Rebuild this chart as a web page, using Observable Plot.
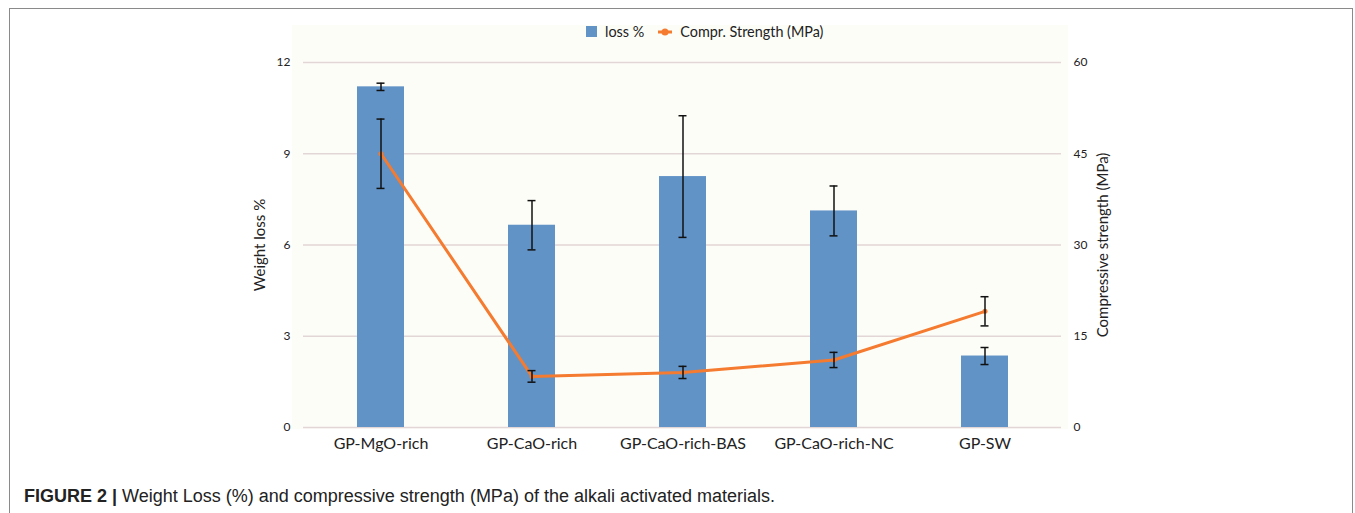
<!DOCTYPE html>
<html>
<head>
<meta charset="utf-8">
<script src="https://cdn.jsdelivr.net/npm/d3@7"></script>
<script src="https://cdn.jsdelivr.net/npm/@observablehq/plot@0.6"></script>
<style>
  html, body { margin: 0; padding: 0; background: #ffffff; width: 1355px; height: 513px; overflow: hidden; }
  #frame { position: absolute; left: 9px; top: 8px; width: 1344px; height: 540px; border: 1px solid #8a8a8a; border-bottom: none; box-sizing: border-box; }
  #panel { position: absolute; left: 292px; top: 25px; width: 776px; height: 404px; background: #fdfdf8; }
  #chart { position: absolute; left: 0; top: 0; }
  #legend { position: absolute; left: 586px; top: 23px; font-family: Lato, "Open Sans", sans-serif; font-size: 14.4px; color: #222; display: flex; align-items: center; white-space: nowrap; }
  #legend .item { display: flex; align-items: center; margin-right: 14px; }
  #legend svg { margin-right: 8px; }
  #caption { position: absolute; left: 24px; top: 486px; font-family: "Liberation Sans", Arial, sans-serif; font-size: 18px; color: #222; white-space: nowrap; }
  #caption b { font-weight: bold; }
</style>
</head>
<body>
<div id="frame"></div>
<div id="panel"></div>
<div id="chart"></div>
<div id="legend"></div>
<div id="caption"><b>FIGURE 2 |</b> Weight Loss (%) and compressive strength (MPa) of the alkali activated materials.</div>
<script>
// ---- data ----
const categories = ["GP-MgO-rich", "GP-CaO-rich", "GP-CaO-rich-BAS", "GP-CaO-rich-NC", "GP-SW"];
const lossPct = [11.2, 6.65, 8.25, 7.12, 2.35];
const lossErr = [0.12, 0.81, 2.0, 0.82, 0.28];
const strengthMPa = [45.0, 8.4, 9.05, 11.1, 19.1];
const strengthErr = [5.7, 0.95, 1.0, 1.25, 2.4];
const leftTicks = [0, 3, 6, 9, 12];
const rightTicks = [0, 15, 30, 45, 60];
const seriesNames = ["loss %", "Compr. Strength (MPa)"];
const axisTitles = ["Weight loss %", "Compressive strength (MPa)"];

const ratio = 60 / 12; // right axis (MPa) per left axis unit

const data = categories.map((c, i) => ({
  cat: c,
  loss: lossPct[i], lossErr: lossErr[i],
  cs: strengthMPa[i], csErr: strengthErr[i]
}));

const barColor = "#6193c7";
const lineColor = "#f47b2f";

const chart = Plot.plot({
  width: 1355,
  height: 470,
  marginTop: 62,
  marginBottom: 43,
  marginLeft: 303,
  marginRight: 294,
  style: { background: "transparent", fontFamily: "Lato, 'Open Sans', sans-serif", color: "#222", overflow: "visible" },
  x: { domain: categories, paddingInner: 0.69, paddingOuter: 0.345, label: null },
  y: { domain: [0, 12], label: null },
  marks: [
    Plot.gridY(leftTicks, { stroke: "#e2d6d6", strokeOpacity: 1, strokeWidth: 1.3 }),
    Plot.barY(data, { x: "cat", y: "loss", fill: barColor }),
    // loss error bars
    Plot.ruleX(data, { x: "cat", y1: d => d.loss - d.lossErr, y2: d => d.loss + d.lossErr, stroke: "#111", strokeWidth: 1.5 }),
    Plot.tickY(data, { x: "cat", y: d => d.loss - d.lossErr, stroke: "#111", strokeWidth: 1.5, insetLeft: 19.5, insetRight: 19.5 }),
    Plot.tickY(data, { x: "cat", y: d => d.loss + d.lossErr, stroke: "#111", strokeWidth: 1.5, insetLeft: 19.5, insetRight: 19.5 }),
    // compressive strength line (secondary axis)
    Plot.line(data, { x: "cat", y: d => d.cs / ratio, stroke: lineColor, strokeWidth: 3 }),
    Plot.dot(data, { x: "cat", y: d => d.cs / ratio, fill: lineColor, r: 2.5 }),
    Plot.ruleX(data, { x: "cat", y1: d => (d.cs - d.csErr) / ratio, y2: d => (d.cs + d.csErr) / ratio, stroke: "#111", strokeWidth: 1.5 }),
    Plot.tickY(data, { x: "cat", y: d => (d.cs - d.csErr) / ratio, stroke: "#111", strokeWidth: 1.5, insetLeft: 19.5, insetRight: 19.5 }),
    Plot.tickY(data, { x: "cat", y: d => (d.cs + d.csErr) / ratio, stroke: "#111", strokeWidth: 1.5, insetLeft: 19.5, insetRight: 19.5 }),
    // axes
    Plot.axisX({ tickSize: 0, tickPadding: 10, fontSize: 16, label: null }),
    Plot.axisY(leftTicks, { anchor: "left", tickSize: 0, tickPadding: 13, fontSize: 12, label: null }),
    Plot.axisY(rightTicks.map(v => v / ratio), { anchor: "right", tickSize: 0, tickPadding: 12, fontSize: 12, label: null, tickFormat: d => String(Math.round(d * ratio)) }),
    Plot.text([axisTitles[0]], { frameAnchor: "left", dx: -43, rotate: -90, textAnchor: "middle", fontSize: 15, fill: "#222" }),
    Plot.text([axisTitles[1]], { frameAnchor: "right", dx: 42, rotate: -90, textAnchor: "middle", fontSize: 15, fill: "#222" })
  ]
});
document.getElementById("chart").appendChild(chart);

// legend
const legend = document.getElementById("legend");
legend.innerHTML =
  `<span class="item"><svg width="11" height="11"><rect width="11" height="11" fill="${barColor}"/></svg>${seriesNames[0]}</span>` +
  `<span class="item"><svg width="14" height="10"><line x1="0" y1="5" x2="14" y2="5" stroke="${lineColor}" stroke-width="3"/><circle cx="7" cy="5" r="3.5" fill="${lineColor}"/></svg>${seriesNames[1]}</span>`;
</script>
</body>
</html>
